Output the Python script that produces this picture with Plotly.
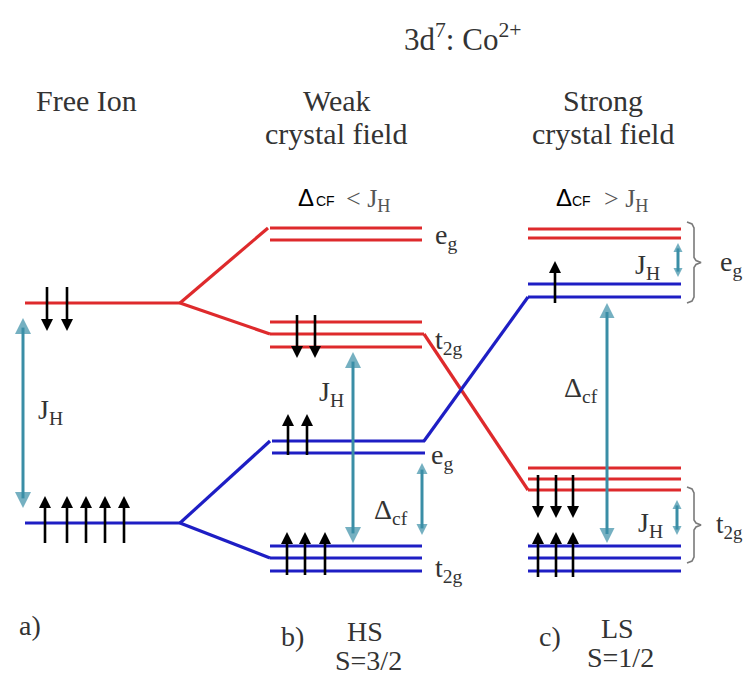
import plotly.graph_objects as go

# ---------------- data (schematic energy-level coordinates) ----------------
# horizontal spans of each column's levels
free_span = (25, 180)
weak_span = (270, 422)
strong_span = (528, 681)

# energy levels (vertical positions, top = high energy)
free_red = [303]
free_blue = [523]
weak_red_eg = [228, 240]
weak_red_t2g = [322, 334, 347]
weak_blue_eg = [441, 453]
weak_blue_t2g = [546, 558, 571]
strong_red_eg = [229, 238]
strong_blue_eg = [284, 297]
strong_red_t2g = [468, 479, 490]
strong_blue_t2g = [546, 558, 571]

# connecting lines (from level, to level)
red_links = [((180, free_red[0]), (268, weak_red_eg[0])),
             ((180, free_red[0]), (270, weak_red_t2g[1])),
             ((424, weak_red_t2g[1]), (528, strong_red_t2g[2]))]
blue_links = [((180, free_blue[0]), (270, weak_blue_eg[0])),
              ((180, free_blue[0]), (270, weak_blue_t2g[1])),
              ((424, weak_blue_eg[0]), (528, strong_blue_eg[1]))]

# electron spins: x, start, tip
spin_down_x = [47, 67, 297, 315, 538, 556, 573]
spin_down_y0 = [287, 287, 315, 315, 475, 475, 475]
spin_down_y1 = [331, 331, 358, 358, 518, 518, 518]
spin_up_x = [45, 67, 86, 105, 124, 288, 307, 287, 305, 325, 555, 538, 556, 573]
spin_up_y0 = [543] * 5 + [455] * 2 + [575] * 3 + [303] + [577] * 3
spin_up_y1 = [496] * 5 + [414] * 2 + [532] * 3 + [261] + [532] * 3

# double-headed gap arrows: x, top tip, bottom tip, head size
gap_x = [23, 353, 422, 607, 678, 677]
gap_top = [318, 352, 463, 303, 243, 500]
gap_bot = [508, 543, 535, 543, 277, 535]
gap_head = [16, 16, 11, 15, 9, 9]

RED = "#de2a2c"
BLUE = "#1e1ec4"
TEAL = "#3a8ea6"
TXT = "#333333"
SERIF = "Liberation Serif"
SANS = "Liberation Sans"

fig = go.Figure()


def hlines(levels, span, color):
    xs, ys = [], []
    for y in levels:
        xs += [span[0], span[1], None]
        ys += [y, y, None]
    fig.add_trace(go.Scatter(x=xs, y=ys, mode="lines",
                             line=dict(color=color, width=3.2)))


hlines(free_red, free_span, RED)
hlines(free_blue, free_span, BLUE)
hlines(weak_red_eg, weak_span, RED)
hlines(weak_red_t2g, weak_span, RED)
hlines(weak_blue_eg, (272, 425), BLUE)
hlines(weak_blue_t2g, weak_span, BLUE)
hlines(strong_red_eg, strong_span, RED)
hlines(strong_blue_eg, strong_span, BLUE)
hlines(strong_red_t2g, strong_span, RED)
hlines(strong_blue_t2g, strong_span, BLUE)

for links, color in ((red_links, RED), (blue_links, BLUE)):
    xs, ys = [], []
    for (a, b) in links:
        xs += [a[0], b[0], None]
        ys += [a[1], b[1], None]
    fig.add_trace(go.Scatter(x=xs, y=ys, mode="lines",
                             line=dict(color=color, width=3.2)))

# extend middle red t2g to join the diagonal
fig.add_trace(go.Scatter(x=[weak_span[1], 424], y=[weak_red_t2g[1]] * 2,
                         mode="lines", line=dict(color=RED, width=3.2)))

# curly braces (strong field)
brace_x = [687, 692, 694, 694, 696, 701, 696, 694, 694, 692, 687]


def brace(top, bot):
    mid = (top + bot) / 2
    ys = [top, top + 2, top + 6, mid - 5, mid - 2, mid, mid + 2, mid + 5,
          bot - 6, bot - 2, bot]
    fig.add_trace(go.Scatter(x=brace_x, y=ys, mode="lines",
                             line=dict(color="#7a7a7a", width=1.6)))


brace(222, 303)
brace(487, 563)

# spin arrows
xs, ys = [], []
for x, a, b in zip(spin_down_x, spin_down_y0, spin_down_y1):
    xs += [x, x, None]
    ys += [a, b - 5, None]
for x, a, b in zip(spin_up_x, spin_up_y0, spin_up_y1):
    xs += [x, x, None]
    ys += [a, b + 5, None]
fig.add_trace(go.Scatter(x=xs, y=ys, mode="lines",
                         line=dict(color="black", width=2.6)))
fig.add_trace(go.Scatter(x=spin_down_x, y=spin_down_y1, mode="markers",
                         marker=dict(symbol="arrow-down", size=12, color="black",
                                     line=dict(width=0))))
fig.add_trace(go.Scatter(x=spin_up_x, y=spin_up_y1, mode="markers",
                         marker=dict(symbol="arrow-up", size=12, color="black",
                                     line=dict(width=0))))

# gap arrows
xs, ys = [], []
for x, t, b, h in zip(gap_x, gap_top, gap_bot, gap_head):
    xs += [x, x, None]
    ys += [t + h * 0.6, b - h * 0.6, None]
fig.add_trace(go.Scatter(x=xs, y=ys, mode="lines",
                         line=dict(color=TEAL, width=3)))
fig.add_trace(go.Scatter(x=gap_x, y=gap_top, mode="markers",
                         marker=dict(symbol="arrow-up", size=gap_head, color=TEAL,
                                     line=dict(width=0))))
fig.add_trace(go.Scatter(x=gap_x, y=gap_bot, mode="markers",
                         marker=dict(symbol="arrow-down", size=gap_head, color=TEAL,
                                     line=dict(width=0))))

# ---------------- text ----------------
texts = [
    ("3d<sup>7</sup>: Co<sup>2+</sup>", 462, 37, 31, SERIF, TXT, "center"),
    ("Free Ion", 86, 100, 30, SERIF, TXT, "center"),
    ("Weak", 337, 100, 30, SERIF, TXT, "center"),
    ("crystal field", 336, 133, 30, SERIF, TXT, "center"),
    ("Strong", 603, 100, 30, SERIF, TXT, "center"),
    ("crystal field", 603, 133, 30, SERIF, TXT, "center"),
    ("Δ", 306, 197, 24, SANS, "black", "center"),
    ("CF", 325, 201, 14, SANS, "black", "center"),
    ("< J<sub>H</sub>", 344, 200, 26, SERIF, "#555555", "left"),
    ("Δ", 564, 197, 24, SANS, "black", "center"),
    ("CF", 581, 201, 14, SANS, "black", "center"),
    ("> J<sub>H</sub>", 602, 200, 26, SERIF, "#555555", "left"),
    ("e<sub>g</sub>", 446, 236, 28, SERIF, TXT, "center"),
    ("t<sub>2g</sub>", 449, 341, 28, SERIF, TXT, "center"),
    ("e<sub>g</sub>", 442, 456, 28, SERIF, TXT, "center"),
    ("t<sub>2g</sub>", 449, 569, 28, SERIF, TXT, "center"),
    ("e<sub>g</sub>", 731, 263, 28, SERIF, TXT, "center"),
    ("t<sub>2g</sub>", 714, 526, 27, SERIF, TXT, "left"),
    ("J<sub>H</sub>", 50, 411, 28, SERIF, TXT, "center"),
    ("J<sub>H</sub>", 331, 393, 28, SERIF, TXT, "center"),
    ("J<sub>H</sub>", 647, 266, 28, SERIF, TXT, "center"),
    ("J<sub>H</sub>", 650, 524, 28, SERIF, TXT, "center"),
    ("Δ<sub>cf</sub>", 391, 511, 28, SERIF, TXT, "center"),
    ("Δ<sub>cf</sub>", 581, 389, 28, SERIF, TXT, "center"),
    ("a)", 30, 625, 28, SERIF, TXT, "center"),
    ("b)", 292, 636, 28, SERIF, TXT, "center"),
    ("HS", 365, 631, 28, SERIF, TXT, "center"),
    ("S=3/2", 368, 660, 28, SERIF, TXT, "center"),
    ("c)", 550, 636, 28, SERIF, TXT, "center"),
    ("LS", 617, 628, 28, SERIF, TXT, "center"),
    ("S=1/2", 620, 657, 28, SERIF, TXT, "center"),
]
for t, x, y, s, fam, col, anc in texts:
    fig.add_annotation(x=x, y=y, text=t, showarrow=False, xref="x", yref="y",
                       xanchor=anc, yanchor="middle",
                       font=dict(family=fam, size=s, color=col))

fig.update_layout(
    width=745, height=675, autosize=False,
    margin=dict(l=0, r=0, t=0, b=0, pad=0),
    paper_bgcolor="white", plot_bgcolor="white",
    showlegend=False, hovermode=False,
    xaxis=dict(range=[0, 745], visible=False, fixedrange=True),
    yaxis=dict(range=[675, 0], visible=False, fixedrange=True),
)
fig.write_html("out.html", config={"displayModeBar": False})
